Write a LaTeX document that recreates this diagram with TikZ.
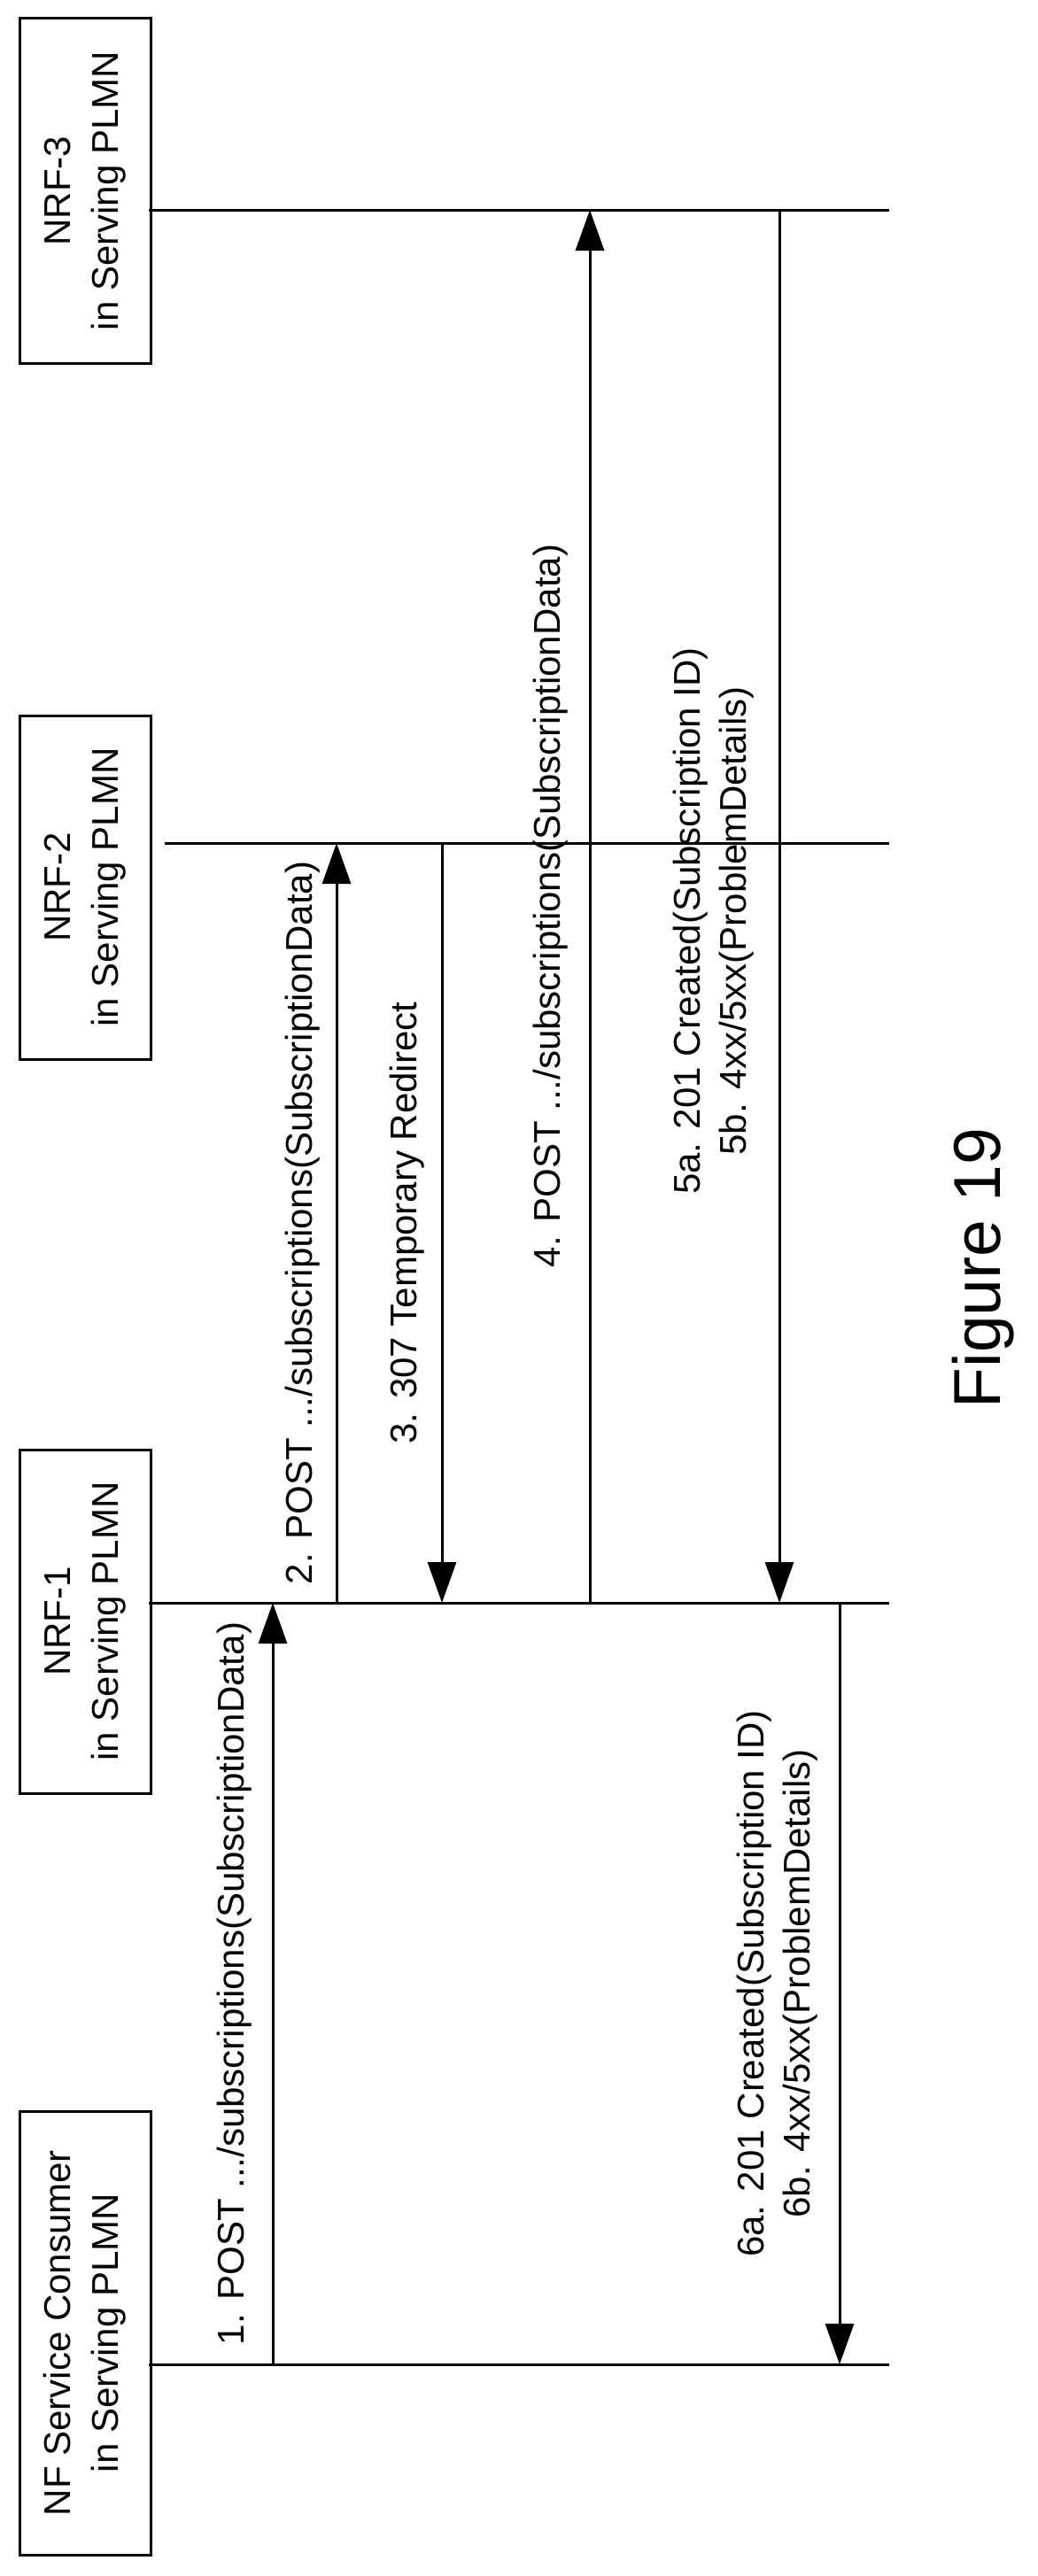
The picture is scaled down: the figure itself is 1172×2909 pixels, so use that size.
\documentclass[tikz,border=0pt]{standalone}
\usepackage{fontspec}
\setmainfont{Liberation Sans}
\usetikzlibrary{arrows.meta}
\begin{document}
\begin{tikzpicture}[x=1pt,y=-1pt,
  lbl/.style={rotate=90,font=\fontsize{42}{52}\selectfont,align=center,inner sep=0pt},
  box/.style={draw,line width=3pt,rotate=90,minimum height=148pt,font=\fontsize{42}{54}\selectfont,align=center},
  life/.style={line width=3pt},
  msg/.style={line width=3pt,-{Triangle[length=46pt,width=32pt]}}]
\useasboundingbox (0,0) rectangle (1172,2909);
% boxes
\node[box,minimum width=389pt] (b3) at (96,215.5) {NRF-3\\in Serving PLMN};
\node[box,minimum width=388pt] (b2) at (96,1002) {NRF-2\\in Serving PLMN};
\node[box,minimum width=388pt] (b1) at (96,1831) {NRF-1\\in Serving PLMN};
\node[box,minimum width=501pt] (b0) at (96,2634.5) {NF Service Consumer\\in Serving PLMN};
% lifelines
\coordinate (l3s) at (168,237);  \coordinate (l3e) at (1004,237);
\coordinate (l2s) at (186,952);  \coordinate (l2e) at (1004,952);
\coordinate (l1s) at (168,1810); \coordinate (l1e) at (1004,1810);
\coordinate (l0s) at (168,2670); \coordinate (l0e) at (1004,2670);
\draw[life] (l3s) -- (l3e);
\draw[life] (l2s) -- (l2e);
\draw[life] (l1s) -- (l1e);
\draw[life] (l0s) -- (l0e);
% message endpoints
\coordinate (m1a) at (308,2670); \coordinate (m1b) at (308,1810);
\coordinate (m2a) at (380,1810); \coordinate (m2b) at (380,952);
\coordinate (m3a) at (499,952);  \coordinate (m3b) at (499,1810);
\coordinate (m4a) at (666,1810); \coordinate (m4b) at (666,237);
\coordinate (m5a) at (880,237);  \coordinate (m5b) at (880,1810);
\coordinate (m6a) at (948,1810); \coordinate (m6b) at (948,2670);
\draw[msg] (m1a) -- (m1b);
\draw[msg] (m2a) -- (m2b);
\draw[msg] (m3a) -- (m3b);
\draw[msg] (m4a) -- (m4b);
\draw[msg] (m5a) -- (m5b);
\draw[msg] (m6a) -- (m6b);
% labels
\node[lbl] (t1) at (265,2240) {1. POST .../subscriptions(SubscriptionData)};
\node[lbl] (t2) at (342,1381) {2. POST .../subscriptions(SubscriptionData)};
\node[lbl] (t3) at (460,1381) {3. 307 Temporary Redirect};
\node[lbl] (t4) at (622,1023) {4. POST .../subscriptions(SubscriptionData)};
\node[lbl] (t5) at (806,1040) {5a. 201 Created(Subscription ID)\\5b. 4xx/5xx(ProblemDetails)};
\node[lbl] (t6) at (878,2240) {6a. 201 Created(Subscription ID)\\6b. 4xx/5xx(ProblemDetails)};
\node[rotate=90,font=\fontsize{75}{90}\selectfont,inner sep=0pt] (fig) at (1110,1432) {Figure 19};
\end{tikzpicture}
\end{document}
